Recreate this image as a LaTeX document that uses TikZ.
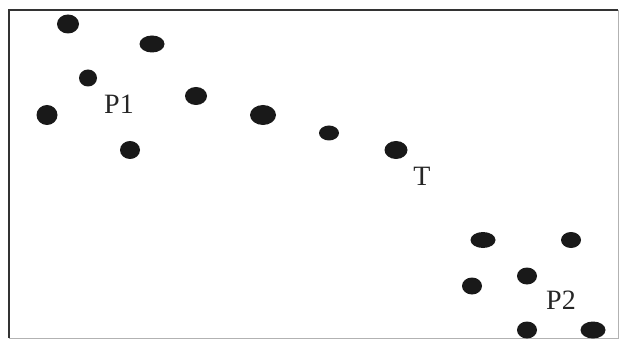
\documentclass[tikz,border=0pt]{standalone}
\usepackage{fontspec}
\setmainfont{Liberation Serif}
\usetikzlibrary{shapes.geometric}
\begin{document}
\begin{tikzpicture}[x=1pt,y=-1pt,
  dot/.style={ellipse,fill=black!90,inner sep=0pt},
  lbl/.style={inner sep=0pt,font=\fontsize{28}{28}\selectfont,text=black!85}]
\useasboundingbox (0,0) rectangle (623,339);
\draw[line width=1.6pt,black!80] (9,338) -- (9,10) -- (618,10);
\draw[line width=0.8pt,black!30] (618,10) -- (618,338) -- (9,338);
\node[dot,minimum width=22pt,minimum height=19pt] (d1) at (68,24) {};
\node[dot,minimum width=25pt,minimum height=17pt] (d2) at (152,44) {};
\node[dot,minimum width=18pt,minimum height=17pt] (d3) at (88,78) {};
\node[dot,minimum width=21pt,minimum height=20pt] (d4) at (47,115) {};
\node[dot,minimum width=22pt,minimum height=18pt] (d5) at (196,96) {};
\node[dot,minimum width=26pt,minimum height=20pt] (d6) at (263,115) {};
\node[dot,minimum width=20pt,minimum height=18pt] (d7) at (130,150) {};
\node[dot,minimum width=20pt,minimum height=15pt] (d8) at (329,133) {};
\node[dot,minimum width=23pt,minimum height=18pt] (d9) at (396,150) {};
\node[dot,minimum width=25pt,minimum height=16pt] (d10) at (483,240) {};
\node[dot,minimum width=20pt,minimum height=16pt] (d11) at (571,240) {};
\node[dot,minimum width=20pt,minimum height=17pt] (d12) at (527,276) {};
\node[dot,minimum width=20pt,minimum height=17pt] (d13) at (472,286) {};
\node[dot,minimum width=20pt,minimum height=17pt] (d14) at (527,330) {};
\node[dot,minimum width=25pt,minimum height=17pt] (d15) at (593,330) {};
\node[lbl] (p1) at (119,104) {P1};
\node[lbl] (t) at (422,176) {T};
\node[lbl] (p2) at (561,300) {P2};
\end{tikzpicture}
\end{document}
